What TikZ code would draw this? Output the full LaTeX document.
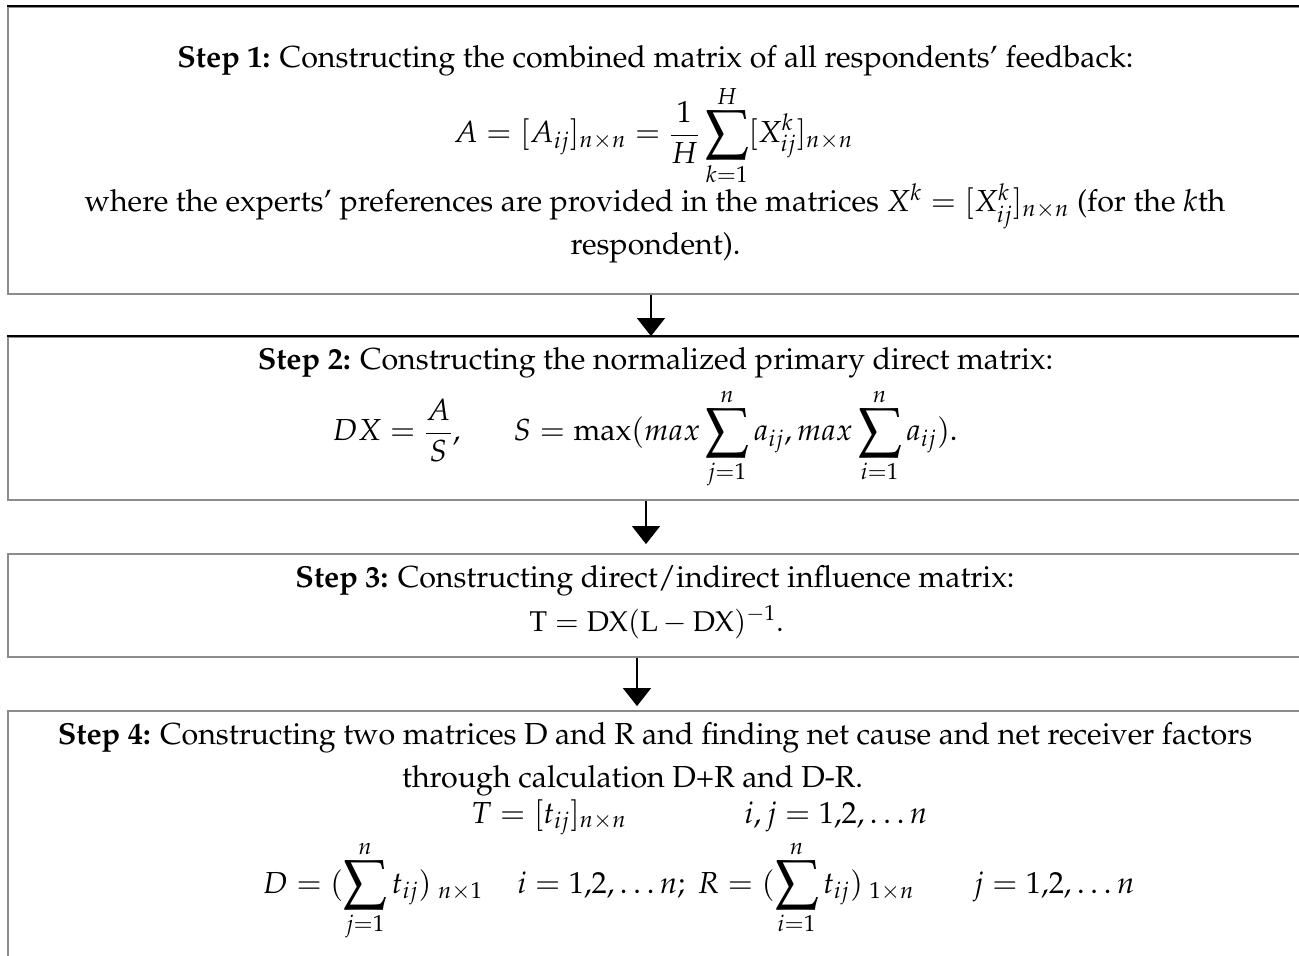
\documentclass[tikz,border=0pt]{standalone}
\usepackage[T1]{fontenc}
\usepackage{mathpazo}
\usepackage{graphicx}
\usetikzlibrary{arrows.meta}
\newcommand{\bsum}{\mathop{\vcenter{\hbox{\scalebox{1.3}{$\displaystyle\sum$}}}}\limits}
\tikzset{
  stepbox/.style={draw=black!45, line width=0.9pt, minimum width=656pt, inner sep=0pt},
  topedge/.style={draw=black, line width=0.6pt},
  txt/.style={anchor=base, inner sep=0pt, font=\fontsize{15.2}{18}\selectfont},
  arr/.style={draw=black, line width=0.6pt, -{Triangle[width=14pt,length=9pt]}}
}
\begin{document}
\begin{tikzpicture}[x=0.5pt,y=-0.5pt]
\useasboundingbox (0,0) rectangle (1299,956);
\clip (0,0) rectangle (1299,956);
% boxes
\node[stepbox, minimum height=143.5pt] (box1) at (664,150.5) {};
\node[stepbox, minimum height=81.5pt]  (box2) at (664,418.5) {};
\node[stepbox, minimum height=51.5pt]  (box3) at (664,605.5) {};
\node[stepbox, minimum height=129.5pt] (box4) at (664,840.5) {};
\draw[topedge] (box1.north west) -- (box1.north east);
\draw[topedge] (box2.north west) -- (box2.north east);
% arrows
\coordinate (c1) at (651,0);
\coordinate (c2) at (646,0);
\coordinate (c3) at (637,0);
\draw[arr] (box1.south -| c1) -- (box2.north -| c1);
\draw[arr, shorten >=4.5pt] (box2.south -| c2) -- (box3.north -| c2);
\draw[arr, shorten >=2pt] (box3.south -| c3) -- (box4.north -| c3);
% step 1
\node[txt] (s1) at (655.5,68) {\textbf{Step 1:} Constructing the combined matrix of all respondents' feedback:};
\node[txt] (f1) at (653.5,143) {$\displaystyle A=[A_{ij}]_{n\times n}=\frac{1}{H}\bsum_{k=1}^{H}[X_{ij}^{k}]_{n\times n}$};
\node[txt] (w1) at (655,212) {where the experts' preferences are provided in the matrices $X^{k}=[X_{ij}^{k}]_{n\times n}$ (for the $k$th};
\node[txt] (r1) at (655.5,255) {respondent).};
% step 2
\node[txt] (s2) at (655.5,370) {\textbf{Step 2:} Constructing the normalized primary direct matrix:};
\node[txt] (f2) at (645,441) {$\displaystyle DX=\frac{A}{S},\hspace{24pt} S=\max(max\bsum_{j=1}^{n}a_{ij},max\bsum_{i=1}^{n}a_{ij}).$};
% step 3
\node[txt] (s3) at (655,587) {\textbf{Step 3:} Constructing direct/indirect influence matrix:};
\node[txt, font=\fontsize{14.3}{17}\selectfont] (f3) at (656.5,631) {$\mathrm{T}=\mathrm{DX}(\mathrm{L}-\mathrm{DX})^{-1}.$};
% step 4
\node[txt] (s4) at (655,744) {\textbf{Step 4:} Constructing two matrices D and R and finding net cause and net receiver factors};
\node[txt] (t4) at (632.5,787) {through calculation D+R and D-R.};
\node[txt] (m4a) at (549,823) {$T=[t_{ij}]_{n\times n}$};
\node[txt] (m4b) at (836,823) {$i,j=1{,}2,\ldots n$};
\node[txt] (m4c) at (373,893) {$\displaystyle D=(\bsum_{j=1}^{n}t_{ij})_{\;n\times1}$};
\node[txt] (m4d) at (716,893) {$\displaystyle i=1{,}2,\ldots n;\ R=(\bsum_{i=1}^{n}t_{ij})_{\;1\times n}$};
\node[txt] (m4e) at (1054,893) {$j=1{,}2,\ldots n$};
\end{tikzpicture}
\end{document}
